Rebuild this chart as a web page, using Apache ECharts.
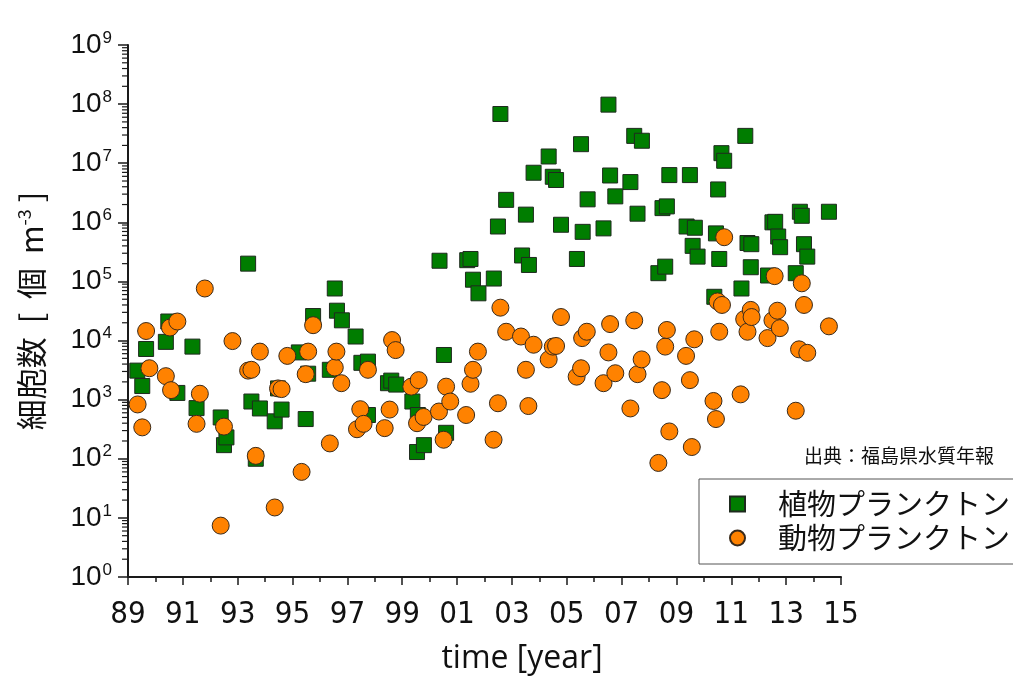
<!DOCTYPE html>
<html><head><meta charset="utf-8">
<script src="https://cdn.jsdelivr.net/npm/echarts@6/dist/echarts.min.js"></script>
<style>html,body{margin:0;padding:0;background:#fff}#c{width:1013px;height:676px}</style>
</head><body><div id="c"></div>
<script>
// 植物プランクトン (phytoplankton) — decimal year, cells per m^3
const phytoYears = [
  1989.34,1989.52,1989.66,1990.47,1990.38,1990.80,1991.35,1991.50,1992.38,1992.50,
  1992.59,1993.38,1993.50,1993.81,1993.66,1994.35,1994.60,1994.47,1995.23,1995.48,
  1995.57,1995.75,1996.36,1996.54,1996.62,1996.80,1997.30,1997.51,1997.75,1997.75,
  1998.48,1998.60,1998.78,1999.37,1999.57,1999.54,1999.79,2000.60,2000.52,2000.36,
  2001.37,2001.49,2001.58,2001.78,2002.34,2002.49,2002.58,2002.79,2003.37,2003.62,
  2003.51,2003.79,2004.34,2004.49,2004.61,2004.79,2005.37,2005.52,2005.58,2005.76,
  2006.34,2006.52,2006.58,2006.77,2007.32,2007.46,2007.74,2007.58,2008.34,2008.59,
  2008.49,2008.65,2008.74,2009.37,2009.49,2009.67,2009.59,2009.77,2010.38,2010.44,
  2010.52,2010.56,2010.64,2010.74,2011.37,2011.51,2011.59,2011.73,2011.71,2012.34,
  2012.50,2012.60,2012.71,2012.78,2013.35,2013.50,2013.57,2013.65,2013.77,2014.56
];
const phytoValues = [
  3100,1700,7200,21000,9500,1300,7900,720,500,170,
  230,200000,930,710,100,430,680,1550,6300,470,
  2750,26000,3200,76000,32000,22000,11700,4200,4400,550,
  1900,2100,1800,930,550,130,170,275,5700,224000,
  229000,240000,107000,63000,112000,850000,68000000,2400000,275000,190000,
  1350000,6900000,13000000,5900000,5200000,910000,240000,21000000,690000,2450000,
  790000,98000000,6200000,2750000,4800000,29000000,24000000,1400000,138000,178000,
  1740000,1860000,6300000,850000,6300000,810000,400000,263000,55000,650000,
  3600000,240000,14800000,11000000,76000,29000000,447000,427000,174000,126000,
  1000000,1020000,575000,380000,138000,1510000,1290000,427000,263000,1510000
];
// 動物プランクトン (zooplankton)
const zooYears = [
  1989.35,1989.52,1989.66,1989.78,1990.38,1990.57,1990.53,1990.80,1991.50,1991.62,
  1991.80,1992.38,1992.50,1992.81,1993.38,1993.50,1993.66,1993.81,1994.35,1994.47,
  1994.60,1994.81,1995.33,1995.48,1995.57,1995.75,1996.36,1996.54,1996.60,1996.78,
  1997.47,1997.35,1997.59,1997.75,1998.63,1998.76,1998.36,1998.54,1999.33,1999.60,
  1999.54,1999.78,2000.34,2000.60,2000.75,2000.51,2001.33,2001.49,2001.58,2001.76,
  2002.33,2002.49,2002.58,2002.79,2003.33,2003.51,2003.60,2003.79,2004.34,2004.49,
  2004.61,2004.79,2005.36,2005.52,2005.56,2005.73,2006.34,2006.58,2006.52,2006.77,
  2007.32,2007.46,2007.58,2007.73,2008.34,2008.47,2008.59,2008.65,2008.74,2009.35,
  2009.49,2009.56,2009.65,2010.35,2010.44,2010.50,2010.56,2010.66,2010.74,2011.34,
  2011.47,2011.59,2011.71,2011.74,2012.32,2012.50,2012.58,2012.68,2012.77,2013.35,
  2013.47,2013.57,2013.65,2013.77,2014.56
];
const zooValues = [
  830,340,14500,3400,2500,1450,16600,21000,390,1260,
  76000,7.4,350,9800,3100,3200,112,6500,15,1550,
  1510,5500,60,2700,6500,18200,182,3500,6500,1900,
  690,316,390,3200,10200,6900,330,680,1660,2140,
  400,510,630,1660,930,210,550,1860,3200,6500,
  210,870,36000,14100,11700,3200,780,8500,4800,7900,
  8100,25000,2450,3400,11000,14100,1900,19000,6300,2800,
  710,21900,2700,4800,85,1450,7900,15100,290,5500,
  2140,158,10500,950,470,46000,14100,40000,560000,1230,
  23000,14100,33000,25000,11000,21900,123000,32000,16200,650,
  7100,93000,40000,6200,17400
];
const seriesNames = ['植物プランクトン', '動物プランクトン'];
const xStartYear = 1989;
const xTickLabels = ['89','91','93','95','97','99','01','03','05','07','09','11','13','15'];
const yTitle = '細胞数  [  個  m{s|-3} ]';
const xTitle = 'time [year]';
const sourceNote = '出典：福島県水質年報';

const toPairs = (ys, vs) => ys.map((y, i) => [y - xStartYear, vs[i]]);
const minorVals = [];
for (let k = 0; k < 9; k++) for (let m = 2; m <= 9; m++) minorVals.push([0, m * Math.pow(10, k)]);

const chart = echarts.init(document.getElementById('c'), null, {renderer: 'canvas'});
const axisColor = '#1a1a1a';
chart.setOption({
  animation: false,
  backgroundColor: '#fff',
  grid: {left: 128, right: 172, top: 45, bottom: 99, containLabel: false, outerBoundsMode: 'none'},
  xAxis: {
    type: 'value', min: 0, max: 26, interval: 2,
    axisLine: {lineStyle: {color: axisColor, width: 2}},
    axisTick: {length: 8, lineStyle: {color: axisColor, width: 1.5}},
    minorTick: {show: true, splitNumber: 2, length: 5, lineStyle: {color: axisColor, width: 1.5}},
    splitLine: {show: false}, minorSplitLine: {show: false},
    axisLabel: {
      margin: 22, color: '#111', fontSize: 31,
      fontFamily: '"Liberation Sans Narrow", "DejaVu Sans Condensed", sans-serif',
      formatter: v => xTickLabels[Math.round(v / 2)] || ''
    },
    name: xTitle, nameLocation: 'middle', nameGap: 66,
    nameTextStyle: {fontSize: 32, color: '#111', fontFamily: '"Open Sans", "Noto Sans", sans-serif', padding: [0, 0, 0, 75]}
  },
  yAxis: {
    type: 'log', logBase: 10, min: 1, max: 1e9,
    axisLine: {show: true, lineStyle: {color: axisColor, width: 2}},
    axisTick: {show: true, length: 10, lineStyle: {color: axisColor, width: 1.5}},
    splitLine: {show: false},
    axisLabel: {
      margin: 16, color: '#111',
      formatter: v => '{b|10}{s|' + Math.round(Math.log10(v)) + '}',
      rich: {
        b: {fontSize: 28, fontFamily: '"Liberation Sans", Arial, sans-serif', color: '#111'},
        s: {fontSize: 17, fontFamily: '"Liberation Sans", Arial, sans-serif', color: '#111', padding: [0, 0, 14, 1]}
      }
    },
    name: yTitle, nameLocation: 'middle', nameGap: 80,
    nameTextStyle: {
      fontSize: 31, color: '#111', fontFamily: '"Noto Sans CJK JP", sans-serif',
      rich: {s: {fontSize: 18, fontFamily: '"Noto Sans CJK JP", sans-serif', color: '#111', padding: [0, 0, 15, 0]}}
    }
  },
  legend: {
    orient: 'vertical', left: 699, top: 479,
    padding: [10, 4, 11, 30], itemGap: 4,
    itemWidth: 15, itemHeight: 15,
    borderColor: '#555', borderWidth: 1,
    textStyle: {fontSize: 29, color: '#111', fontFamily: '"Noto Sans CJK JP", sans-serif', padding: [0, 0, 0, 28], lineHeight: 30},
    data: [{name: seriesNames[0], icon: 'rect'}, {name: seriesNames[1], icon: 'circle'}]
  },
  graphic: [{
    type: 'text', left: 804, top: 446,
    style: {text: sourceNote, fontSize: 19, fill: '#111', fontFamily: '"Noto Sans CJK JP", sans-serif'}
  }],
  series: [
    {
      type: 'custom', silent: true, clip: false, z: 5,
      data: minorVals,
      renderItem: (params, api) => {
        const p = api.coord([0, api.value(1)]);
        return {type: 'line', shape: {x1: p[0] - 6, y1: p[1], x2: p[0], y2: p[1]},
          style: {stroke: axisColor, lineWidth: 1.2}};
      }
    },
    {
      name: seriesNames[0], type: 'scatter', symbol: 'rect', symbolSize: 15,
      itemStyle: {color: '#007d00', borderColor: '#1e2a1e', borderWidth: 1, opacity: 1},
      data: toPairs(phytoYears, phytoValues), z: 2
    },
    {
      name: seriesNames[1], type: 'scatter', symbol: 'circle', symbolSize: 17,
      itemStyle: {color: '#ff8200', borderColor: '#3a2a1a', borderWidth: 1, opacity: 1},
      data: toPairs(zooYears, zooValues), z: 3
    }
  ]
});
</script>
</body></html>
